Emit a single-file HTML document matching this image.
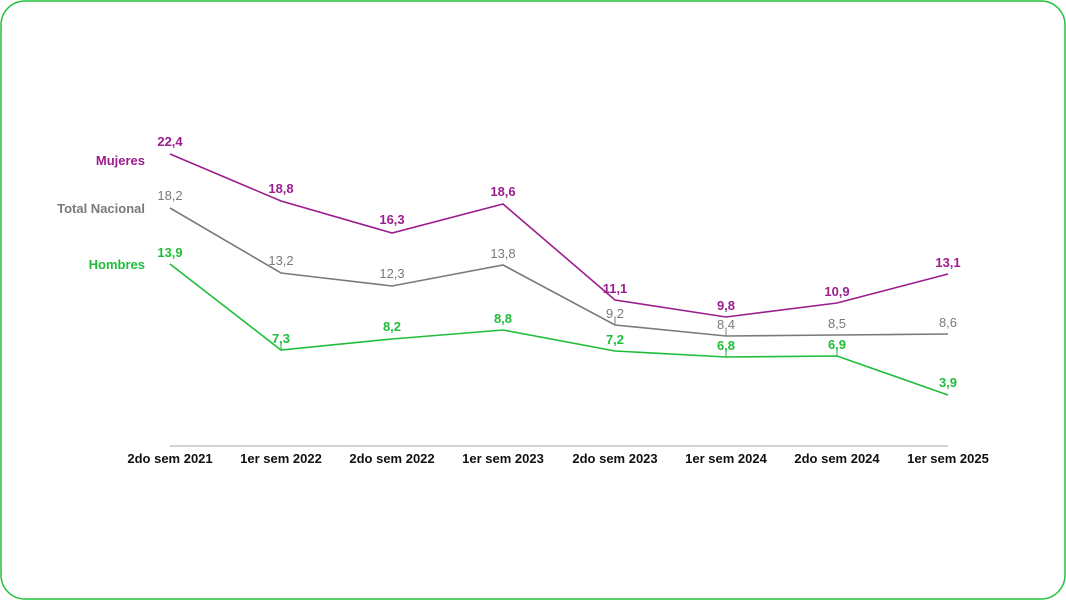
<!DOCTYPE html>
<html><head><meta charset="utf-8"><style>
html,body{margin:0;padding:0;background:#fff;}
svg{display:block;font-family:"Liberation Sans",sans-serif;}
</style></head><body>
<svg width="1066" height="600" viewBox="0 0 1066 600">
<rect x="1" y="1" width="1064" height="598" rx="24" ry="24" fill="#fff" stroke="#22c03c" stroke-width="1.5"/>
<line x1="170" y1="446" x2="948" y2="446" stroke="#aaa" stroke-width="1"/>
<g font-size="13" font-weight="bold" fill="#111" text-anchor="middle">
<text x="170" y="463">2do sem 2021</text>
<text x="281" y="463">1er sem 2022</text>
<text x="392" y="463">2do sem 2022</text>
<text x="503" y="463">1er sem 2023</text>
<text x="615" y="463">2do sem 2023</text>
<text x="726" y="463">1er sem 2024</text>
<text x="837" y="463">2do sem 2024</text>
<text x="948" y="463">1er sem 2025</text>
</g>
<g font-size="13" font-weight="bold" text-anchor="end">
<text x="145" y="165" fill="#9b1d8e">Mujeres</text>
<text x="145" y="213" fill="#7a7a7a">Total Nacional</text>
<text x="145" y="269" fill="#1fbd3a">Hombres</text>
</g>
<polyline fill="none" stroke="#9b1d8e" stroke-width="1.6" points="170,154 281,201 392,233 503,204 615,300 726,317 837,303 948,274"/>
<polyline fill="none" stroke="#7a7a7a" stroke-width="1.6" points="170,208 281,273 392,286 503,265 615,325 726,336 837,335 948,334"/>
<polyline fill="none" stroke="#1fbd3a" stroke-width="1.6" points="170,264 281,350 392,339 503,330 615,351 726,357 837,356 948,395"/>
<g stroke-width="1">
<line x1="281" y1="343" x2="281" y2="350" stroke="#1fbd3a"/>
<line x1="615" y1="318" x2="615" y2="325" stroke="#7a7a7a"/>
<line x1="726" y1="330" x2="726" y2="336" stroke="#7a7a7a"/>
<line x1="726" y1="350" x2="726" y2="357" stroke="#1fbd3a"/>
<line x1="837" y1="349" x2="837" y2="356" stroke="#1fbd3a"/>
</g>
<g font-size="13" font-weight="bold" text-anchor="middle" fill="#9b1d8e">
<text x="170" y="146">22,4</text><text x="281" y="193">18,8</text><text x="392" y="224">16,3</text><text x="503" y="196">18,6</text>
<text x="615" y="293">11,1</text><text x="726" y="310">9,8</text><text x="837" y="296">10,9</text><text x="948" y="267">13,1</text>
</g>
<g font-size="13" text-anchor="middle" fill="#7a7a7a">
<text x="170" y="200">18,2</text><text x="281" y="265">13,2</text><text x="392" y="278">12,3</text><text x="503" y="258">13,8</text>
<text x="615" y="318">9,2</text><text x="726" y="329">8,4</text><text x="837" y="328">8,5</text><text x="948" y="327">8,6</text>
</g>
<g font-size="13" font-weight="bold" text-anchor="middle" fill="#1fbd3a">
<text x="170" y="257">13,9</text><text x="281" y="343">7,3</text><text x="392" y="331">8,2</text><text x="503" y="323">8,8</text>
<text x="615" y="344">7,2</text><text x="726" y="350">6,8</text><text x="837" y="349">6,9</text><text x="948" y="387">3,9</text>
</g>
</svg>
</body></html>
